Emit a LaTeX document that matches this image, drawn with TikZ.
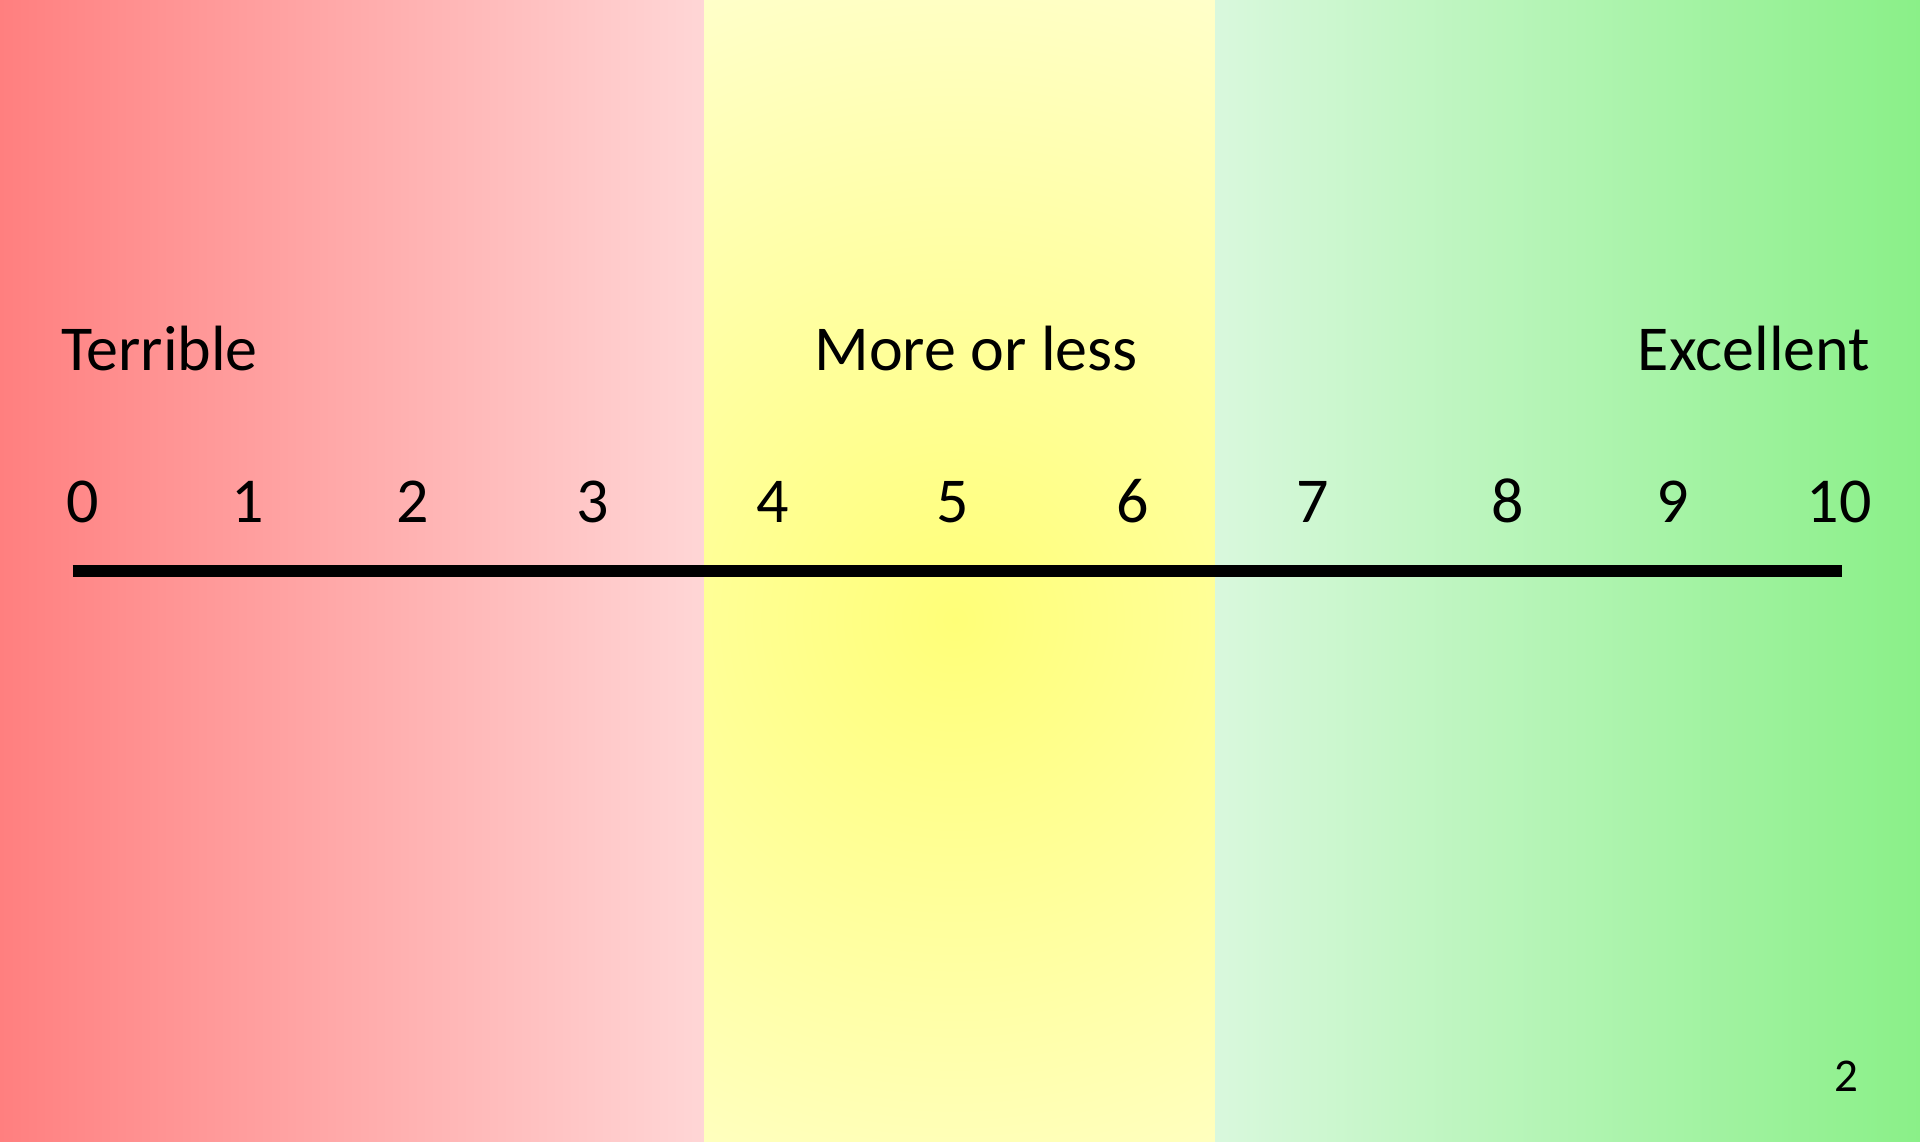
\documentclass[tikz,border=0pt]{standalone}
\usepackage{fontspec}
\setmainfont{Carlito}
\definecolor{redL}{RGB}{255,127,127}
\definecolor{redR}{RGB}{255,214,214}
\definecolor{yelIn}{RGB}{255,255,120}
\definecolor{yelOut}{RGB}{255,255,212}
\definecolor{grnL}{RGB}{217,248,221}
\definecolor{grnR}{RGB}{138,240,136}
\tikzset{
  lbl/.style={inner sep=0pt, outer sep=0pt, font=\fontsize{64}{70}\selectfont, text=black},
  num/.style={lbl, anchor=base},
  pagenum/.style={inner sep=0pt, anchor=base, font=\fontsize{47}{52}\selectfont},
  axis/.style={line width=11.7pt, black}
}
\begin{document}
\begin{tikzpicture}[x=1pt,y=-1pt]
\useasboundingbox (0,0) rectangle (1920,1141);
% panels
\shade[left color=redL, right color=redR] (0,0) rectangle (704,1141);
\begin{scope}
  \clip (704,0) rectangle (1215,1141);
  \fill[yelOut] (704,0) rectangle (1215,1141);
  \shade[inner color=yelIn, outer color=yelOut] (955,620) circle (760);
\end{scope}
\shade[left color=grnL, right color=grnR] (1215,0) rectangle (1920,1141);
% labels
\node[lbl, anchor=base west] (terrible) at (61,370.7) {Terrible};
\node[lbl, anchor=base] (more) at (976,370.7) {More or less};
\node[lbl, anchor=base east] (excellent) at (1870,370.7) {Excellent};
% numbers
\node[num] (n0) at (82.5,522.7) {0};
\node[num] (n1) at (247.8,522.7) {1};
\node[num] (n2) at (412.5,522.7) {2};
\node[num] (n3) at (592.7,522.7) {3};
\node[num] (n4) at (772.5,522.7) {4};
\node[num] (n5) at (952.5,522.7) {5};
\node[num] (n6) at (1133,522.7) {6};
\node[num] (n7) at (1312.7,522.7) {7};
\node[num] (n8) at (1507.4,522.7) {8};
\node[num] (n9) at (1672.5,522.7) {9};
\node[num] (n10) at (1839,522.7) {10};
% axis
\coordinate (axL) at (72.5,571);
\coordinate (axR) at (1842,571);
\draw[axis] (axL) -- (axR);
% page number
\node[pagenum] (pg) at (1846.3,1091) {2};
\end{tikzpicture}
\end{document}
